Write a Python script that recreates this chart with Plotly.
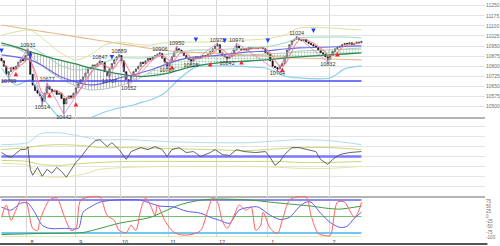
import pandas as pd
import plotly.graph_objects as go
from plotly.subplots import make_subplots

# ---------------- data ----------------
first_open = 10860
closes = [10840, 10800, 10740, 10760, 10790, 10780, 10800, 10830, 10850, 10840,
          10880, 10910, 10740, 10660, 10620, 10600, 10580, 10540, 10600, 10650,
          10630, 10610, 10620, 10590, 10600, 10560, 10520, 10560, 10580, 10570,
          10600, 10640, 10670, 10700, 10720, 10750, 10780, 10790, 10810, 10800,
          10820, 10835, 10830, 10760, 10730, 10780, 10820, 10850, 10870, 10880,
          10840, 10760, 10700, 10690, 10730, 10760, 10780, 10800, 10830, 10820,
          10840, 10860, 10850, 10870, 10880, 10890, 10895, 10860, 10830, 10800,
          10830, 10870, 10900, 10930, 10920, 10900, 10880, 10860, 10850, 10840,
          10860, 10870, 10860, 10870, 10880, 10870, 10890, 10910, 10930, 10950,
          10960, 10900, 10880, 10870, 10860, 10870, 10880, 10920, 10950, 10930,
          10920, 10930, 10920, 10940, 10930, 10940, 10930, 10935, 10940, 10930,
          10900, 10890, 10840, 10800, 10790, 10780, 10800, 10820, 10870, 10920,
          10960, 10990, 11000, 11010, 11000, 10990, 11000, 10980, 10970, 10960,
          10950, 10940, 10920, 10900, 10890, 10870, 10850, 10880, 10910, 10930,
          10940, 10950, 10960, 10970, 10965, 10975, 10960, 10970, 10980, 10975,
          10985]

# labelled highs / lows (bar index, value, kind)
ext_bars = [3, 11, 17, 19, 26, 41, 45, 49, 53, 66, 69, 73, 79, 90, 94, 98, 115, 123, 136]
ext_vals = [10709, 10931, 10514, 10677, 10442, 10847, 10707, 10889, 10652, 10906,
            10787, 10950, 10825, 10973, 10842, 10971, 10764, 11024, 10832]
ext_kind = ['L', 'H', 'L', 'H', 'L', 'H', 'L', 'H', 'L', 'H',
            'L', 'H', 'L', 'H', 'L', 'H', 'L', 'H', 'L']

# signal arrows
sell_bars = [0, 12, 46, 81, 93, 111, 130]
sell_vals = [10899, 10860, 10850, 10980, 10973, 10973, 11047]
buy_bars = [6, 20, 31, 71, 87, 100, 117, 140]
buy_vals = [10760, 10601, 10534, 10810, 10832, 10847, 10790, 10906]

# overlay lines (values at node bars)
nodes = [0, 6, 12, 18, 24, 31, 37, 43, 49, 55, 59, 62, 68, 74, 81, 87, 95, 103, 110, 118, 124, 137, 143, 150]
span_b = [10973, 10943, 10906, 10876, 10847, 10817, 10787, 10765, 10743, 10728, 10724, 10728,
          10743, 10772, 10802, 10817, 10832, 10839, 10847, 10861, 10869, 10884, 10891, 10899]
span_a = [10958, 10936, 10876, 10787, 10713, 10653, 10624, 10631, 10653, 10690, 10724, 10757,
          10817, 10847, 10869, 10876, 10876, 10884, 10891, 10899, 10913, 10921, 10928, 10936]
ma_mid = [10884, 10869, 10847, 10795, 10728, 10683, 10661, 10676, 10713, 10735, 10757, 10772,
          10809, 10847, 10869, 10876, 10891, 10906, 10913, 10928, 10936, 10943, 10947, 10951]
ma_long = [11106, 11089, 11072, 11055, 11039, 11019, 11002, 10985, 10969, 10952, 10940, 10932,
           10918, 10906, 10902, 10899, 10890, 10882, 10876, 10867, 10861, 10854, 10850, 10847]
bb_low = [10787, 10661, 10698, 10549, 10423, 10385, 10416, 10460, 10490, 10512, 10535, 10549,
          10601, 10705, 10795, 10802, 10802, 10795, 10787, 10728, 10713, 10713, 10780, 10802]
bb_up = [11032, 11055, 11069, 10995, 10906, 10847, 10884, 10958, 10980, 10965, 10958, 10958,
         10973, 10980, 10980, 10980, 10988, 10995, 11003, 11032, 11084, 11084, 11077, 11069]
bb_up1 = [10958, 10943, 10943, 10884, 10809, 10772, 10787, 10832, 10861, 10861, 10861, 10869,
          10884, 10906, 10921, 10921, 10928, 10936, 10943, 10973, 11010, 11017, 11017, 11010]
level_price = 10690

# panel 2 oscillator
osc_x = [0, 2, 4, 6, 8, 10, 11, 12, 13, 15, 17, 19, 21, 23, 25, 27, 29, 31, 33, 36, 39, 41, 44, 46,
         49, 52, 54, 58, 61, 64, 67, 69, 71, 74, 77, 80, 83, 87, 89, 92, 95, 98, 101, 106, 110, 112,
         114, 116, 118, 121, 124, 128, 131, 133, 136, 138, 141, 145, 150]
osc_v = [0.4, 0.1, -0.1, 0.3, 0.7, 0.7, 1.0, -1.3, -1.9, -1.1, -2.0, -1.3, -1.7, -1.1, -1.5, -2.1,
         -1.3, -0.6, -0.1, 0.9, 1.6, 1.7, 1.0, 1.4, 0.7, -0.3, 0.5, 0.9, 0.7, 1.0, 0.7, 0.0, 0.7,
         0.9, 0.4, 0.5, 0.0, 0.4, 0.7, 0.2, 0.1, 0.7, 0.5, 0.4, 0.5, -0.1, -0.9, -0.5, 0.2, 0.9,
         0.9, 0.7, 0.5, -0.3, -0.8, -0.3, 0.2, 0.4, 0.5]
band_x = [0, 11, 16, 24, 34, 41, 53, 70, 87, 103, 116, 124, 137, 150]
band_up2 = [1.2, 1.4, 2.3, 2.4, 2.0, 1.7, 1.7, 1.5, 1.4, 1.4, 1.6, 1.7, 1.6, 1.2]
band_up1 = [0.7, 0.9, 1.1, 1.2, 1.1, 0.9, 0.9, 0.8, 0.7, 0.6, 0.8, 0.9, 0.9, 0.7]
band_dn1 = [-0.4, -0.5, -0.8, -0.9, -0.7, -0.6, -0.5, -0.5, -0.5, -0.5, -0.5, -0.6, -0.6, -0.5]
band_dn2 = [-0.7, -0.9, -1.9, -2.1, -1.8, -1.3, -1.1, -1.0, -1.0, -1.0, -1.1, -1.2, -1.2, -1.0]

# panel 3 oscillators
fast_x = [0, 2, 4, 6, 8, 10, 13, 15, 16, 20, 23, 26, 29, 31, 33, 37, 41, 44, 47, 49, 52, 54, 56, 58,
          60, 62, 64, 65, 68, 71, 74, 79, 83, 86, 88, 90, 92, 94, 97, 99, 102, 104, 106, 108, 109,
          112, 115, 117, 120, 123, 127, 129, 132, 135, 137, 140, 143, 145, 147, 149, 150]
fast_v = [-4, 56, -19, 31, 80, 80, -58, -68, -19, 80, 90, 6, -68, -58, 80, 95, 95, 6, -19, -68, -78,
          -43, -68, 31, 90, 56, 6, 56, -19, -68, -88, -88, -68, 31, 90, 70, -19, -58, 6, 56, 31, 46,
          -68, -43, 21, -58, -83, -19, 80, 95, 95, 6, -83, -93, -93, 70, 70, 31, -4, 31, 70]
slow_x = [0, 4, 8, 11, 14, 17, 20, 27, 32, 34, 37, 41, 47, 58, 62, 66, 72, 77, 83, 87, 91, 95, 99,
          104, 107, 112, 116, 120, 124, 127, 129, 133, 137, 141, 144, 147, 150]
slow_v = [46, 31, 65, 65, 17, -43, -58, -58, -58, 21, 46, 70, 80, 80, 65, 51, 46, 26, 16, -4, -19,
          -33, 31, 46, 46, 6, -14, -4, 46, 70, 70, 16, -29, -53, -48, -9, 21]
trend_x = [0, 16, 34, 41, 49, 62, 74, 83, 90, 104, 112, 120, 129, 135, 141, 150]
trend_v = [-88, -83, -78, -58, -33, -4, 56, 80, 85, 80, 70, 61, 51, 41, 36, 51]
osc3_levels = [80, 0, -80, -100]
osc3_level_colors = ['#8c8cf0', '#70c070', '#70c8f0', '#c8d870']

month_pos = [10.6, 31.0, 49.4, 69.4, 89.8, 111.0, 136.5]
month_txt = ['8', '9', '10', '11', '12', '1', '2']
price_ticks = [10500, 10575, 10650, 10725, 10800, 10875, 10950, 11025, 11100, 11175, 11250]
osc3_ticks = [75, 50, 25, 0, -25, -50, -75, -100]

# ---------------- derived ----------------
bars = list(range(len(closes)))
opens = [first_open] + closes[:-1]
highs = [max(o, c) for o, c in zip(opens, closes)]
lows = [min(o, c) for o, c in zip(opens, closes)]
for b, v, k in zip(ext_bars, ext_vals, ext_kind):
    if k == 'H':
        highs[b] = v
    else:
        lows[b] = v
sma5 = pd.Series(closes).rolling(5, min_periods=1).mean()

# ---------------- figure ----------------
fig = make_subplots(rows=3, cols=1, shared_xaxes=True, vertical_spacing=0)
H = 246.0


def add_line(xs, ys, color, width, row, shape='spline', smoothing=0.7, opacity=1.0):
    fig.add_trace(go.Scatter(x=xs, y=ys, mode='lines', opacity=opacity,
                             line=dict(color=color, width=width, shape=shape,
                                       smoothing=smoothing if shape == 'spline' else None),
                             hoverinfo='skip', showlegend=False), row=row, col=1)


# cloud fills
k = nodes.index(59)
segs = [(slice(0, k + 1), dict(shape='|', fgcolor='#8c8c8c', bgcolor='rgba(255,255,255,0)', size=3, solidity=0.35)),
        (slice(k, None), dict(shape='.', fgcolor='#3c9c5c', bgcolor='rgba(255,255,255,0)', size=3, solidity=0.35))]
for sl, pat in segs:
    fig.add_trace(go.Scatter(x=nodes[sl], y=span_b[sl], mode='lines',
                             line=dict(width=0, shape='spline', smoothing=0.7),
                             hoverinfo='skip', showlegend=False), row=1, col=1)
    fig.add_trace(go.Scatter(x=nodes[sl], y=span_a[sl], mode='lines', fill='tonexty',
                             fillcolor='rgba(0,0,0,0)', fillpattern=pat,
                             line=dict(width=0, shape='spline', smoothing=0.7),
                             hoverinfo='skip', showlegend=False), row=1, col=1)

add_line(nodes, ma_long, '#e8b888', 1.1, 1)
add_line(nodes, bb_up, '#d4e4a0', 1.0, 1)
add_line(nodes, bb_up1, '#9ad8b8', 1.0, 1)
add_line(nodes, bb_low, '#8ccff0', 1.2, 1)
add_line(nodes, span_a, '#a8b8a8', 0.8, 1)
add_line(nodes, span_b, '#2e8b57', 1.3, 1)
add_line(nodes, ma_mid, '#6a6ae0', 1.2, 1)
add_line([bars[0], bars[-1]], [level_price, level_price], '#4848f0', 1.5, 1, shape='linear')

fig.add_trace(go.Candlestick(x=bars, open=opens, high=highs, low=lows, close=closes,
                             increasing=dict(line=dict(color='#303030', width=0.7), fillcolor='#ffffff'),
                             decreasing=dict(line=dict(color='#111111', width=0.7), fillcolor='#111111'),
                             whiskerwidth=0, hoverinfo='skip', showlegend=False), row=1, col=1)
add_line(bars, sma5, '#ff7878', 1.1, 1, opacity=0.85)
add_line(ext_bars, ext_vals, '#c878c8', 0.7, 1, shape='linear')

fig.add_trace(go.Scatter(x=ext_bars, y=ext_vals, mode='text', text=[str(v) for v in ext_vals],
                         textposition=['top center' if k_ == 'H' else 'bottom center' for k_ in ext_kind],
                         textfont=dict(size=5.5, color='#333333', family='Liberation Sans'),
                         cliponaxis=False, hoverinfo='skip', showlegend=False), row=1, col=1)
fig.add_trace(go.Scatter(x=sell_bars, y=sell_vals, mode='markers',
                         marker=dict(symbol='arrow-down', size=4.5, color='#2040ff'),
                         hoverinfo='skip', showlegend=False), row=1, col=1)
fig.add_trace(go.Scatter(x=buy_bars, y=buy_vals, mode='markers',
                         marker=dict(symbol='arrow-up', size=4.5, color='#ff2020'),
                         hoverinfo='skip', showlegend=False), row=1, col=1)

# panel 2
add_line(band_x, band_up2, '#b0dcf0', 1.0, 2)
add_line(band_x, band_dn2, '#e4e4a0', 1.0, 2)
add_line(band_x, band_up1, '#c8d878', 1.0, 2)
add_line(band_x, band_dn1, '#c8d878', 1.0, 2)
add_line([bars[0], bars[-1]], [0, 0], '#7878f8', 2.5, 2, shape='linear')
add_line(osc_x, osc_v, '#555555', 0.9, 2, shape='linear')

# panel 3
for v in [50, -50]:
    fig.add_hline(y=v, line=dict(color='#e2e2e2', width=1), row=3, col=1)
for v, c in zip(osc3_levels, osc3_level_colors):
    add_line([bars[0], bars[-1]], [v, v], c, 2 if v in (80, -80) else 1.2, 3, shape='linear')
add_line(trend_x, trend_v, '#3c9c3c', 1.0, 3)
add_line(slow_x, slow_v, '#5c5cf0', 1.0, 3, smoothing=0.8)
add_line(fast_x, fast_v, '#ff6060', 1.0, 3, smoothing=0.8)

# dark bottom rule
fig.add_shape(type='line', xref='paper', yref='paper', x0=0, x1=1.005, y0=2 / H, y1=2 / H,
              line=dict(color='#555555', width=2))

grid = '#e4e4e4'
xcommon = dict(range=[-0.625, 201.5], tickmode='array', tickvals=month_pos, ticktext=month_txt,
               showgrid=True, gridcolor='#d6d6d6', gridwidth=1, zeroline=False, ticks='',
               rangeslider=dict(visible=False), automargin=False, layer='below traces')
fig.update_layout(
    width=500, height=246, margin=dict(l=0, r=15, t=0, b=0),
    paper_bgcolor='white', plot_bgcolor='rgba(0,0,0,0)', hovermode=False, showlegend=False,
    font=dict(family='Liberation Sans', size=5, color='#606060'),
    xaxis=dict(**xcommon, showticklabels=False, showline=True, linecolor='#b4b4b4', linewidth=1.5),
    xaxis2=dict(**xcommon, showticklabels=False, showline=True, linecolor='#b4b4b4', linewidth=1.5),
    xaxis3=dict(**xcommon, showticklabels=True, ticklabelshift=5,
                tickfont=dict(size=5.5, color='#404040')),
    yaxis=dict(domain=[1 - 117 / H, 1], range=[10423, 11292], side='right', tickmode='array',
               tickvals=price_ticks, ticktext=[str(t) for t in price_ticks], showgrid=True,
               gridcolor=grid, zeroline=False, ticks='', tickfont=dict(size=5, color='#707070'),
               automargin=False),
    yaxis2=dict(domain=[1 - 196 / H, 1 - 117 / H], range=[-4, 4], side='right', tickmode='array',
                tickvals=[-3, -2, -1, 0, 1, 2, 3], showticklabels=False, showgrid=True,
                gridcolor=grid, zeroline=False, ticks='', automargin=False),
    yaxis3=dict(domain=[(H - 237) / H, 1 - 196 / H], range=[-100, 100], side='right',
                tickmode='array', tickvals=osc3_ticks, ticktext=[str(t) for t in osc3_ticks],
                showgrid=False, zeroline=False, ticks='', tickfont=dict(size=4.6, color='#707070'),
                automargin=False),
)

fig.write_html("out.html")
